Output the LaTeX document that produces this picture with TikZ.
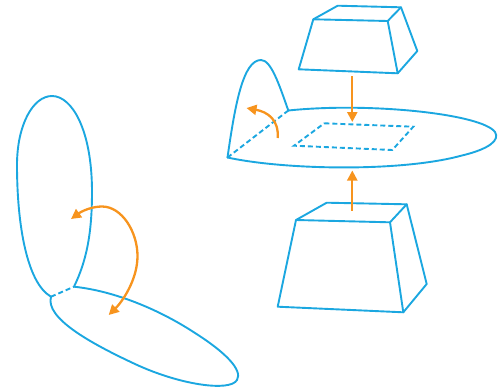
\documentclass[tikz,border=0pt]{standalone}
\usetikzlibrary{arrows.meta}
\definecolor{skyline}{RGB}{27,167,224}
\definecolor{amber}{RGB}{247,148,30}
\tikzset{
  x=1pt,y=-1pt,
  shape line/.style={draw=skyline,line width=1.9pt,line join=round,line cap=round},
  hidden line/.style={draw=skyline,line width=1.9pt,dash pattern=on 5pt off 3pt},
  motion/.style={draw=amber,line width=2.3pt,-{Triangle[length=10pt,width=10pt]}}
}
\begin{document}
\begin{tikzpicture}
\useasboundingbox (0,0) rectangle (504,389);
% top box
\coordinate (tfl) at (313.3,19.3); \coordinate (tfr) at (387.7,21);
\coordinate (tbr) at (397.7,73.3); \coordinate (tbl) at (298.7,69.3);
\coordinate (tkl) at (337.7,5.7);  \coordinate (tkr) at (401,7.3);
\coordinate (trr) at (417.3,51);
\draw[shape line] (tfl)--(tfr)--(tbr)--(tbl)--cycle;
\draw[shape line] (tfl)--(tkl)--(tkr)--(tfr);
\draw[shape line] (tkr)--(trr)--(tbr);
% bottom box
\coordinate (bfl) at (296,220); \coordinate (bfr) at (390,222.3);
\coordinate (bbr) at (403.3,312.3); \coordinate (bbl) at (277.7,306.7);
\coordinate (bkl) at (326.7,202.7); \coordinate (bkr) at (406.7,204.3);
\coordinate (brr) at (426.7,284);
\draw[shape line] (bfl)--(bfr)--(bbr)--(bbl)--cycle;
\draw[shape line] (bfl)--(bkl)--(bkr)--(bfr);
\draw[shape line] (bkr)--(brr)--(bbr);
% plane with flap
\coordinate (pa) at (227.5,157.5); \coordinate (pb) at (288.3,110.5);
\draw[shape line] (pa) .. controls (285,170) and (400,172) .. (460,156)
  .. controls (490,149) and (500,140) .. (495,132)
  .. controls (482,114) and (370,102) .. (pb);
\draw[shape line] (pa) .. controls (235,105) and (243,60) .. (261,60)
  .. controls (271,60) and (279,84) .. (pb);
\draw[hidden line] (pa)--(pb);
% dashed window
\coordinate (wa) at (324.3,123.3); \coordinate (wb) at (413.3,126.7);
\coordinate (wc) at (392.3,150); \coordinate (wd) at (294,145.7);
\draw[hidden line] (wa)--(wb)--(wc)--(wd)--cycle;
% arrows
\coordinate (ta) at (352.3,76); \coordinate (tb) at (352.3,122);
\coordinate (ua) at (352.3,210.7); \coordinate (ub) at (352.3,170.5);
\coordinate (fa) at (277.7,138); \coordinate (fb) at (246.5,108);
\draw[motion] (ta)--(tb);
\draw[motion] (ua)--(ub);
\draw[motion] (fa) .. controls (279,120) and (268,112) .. (fb);
% left shapes
\coordinate (la) at (51,296.7); \coordinate (lb) at (74,286.7);
\draw[shape line] (la) .. controls (27,283) and (17,225) .. (17,165)
  .. controls (17,125) and (33,96) .. (52,96)
  .. controls (72,96) and (92,130) .. (92,192)
  .. controls (92,235) and (86,262) .. (lb);
\draw[shape line] (lb) .. controls (115,291) and (160,310) .. (195,333)
  .. controls (225,352) and (243,370) .. (237,380)
  .. controls (230,392) and (180,385) .. (135,364)
  .. controls (90,343) and (45,318) .. (la);
\draw[hidden line] (la)--(lb);
\coordinate (ca) at (108.7,315); \coordinate (cb) at (71,219);
\draw[motion,{Triangle[length=10pt,width=10pt]}-{Triangle[length=10pt,width=10pt]}]
  (cb) .. controls (82,211) and (92,206.5) .. (102,206.5)
  .. controls (122,206.5) and (137.5,232) .. (137.5,256)
  .. controls (137.5,280) and (122,302) .. (ca);
\end{tikzpicture}
\end{document}
